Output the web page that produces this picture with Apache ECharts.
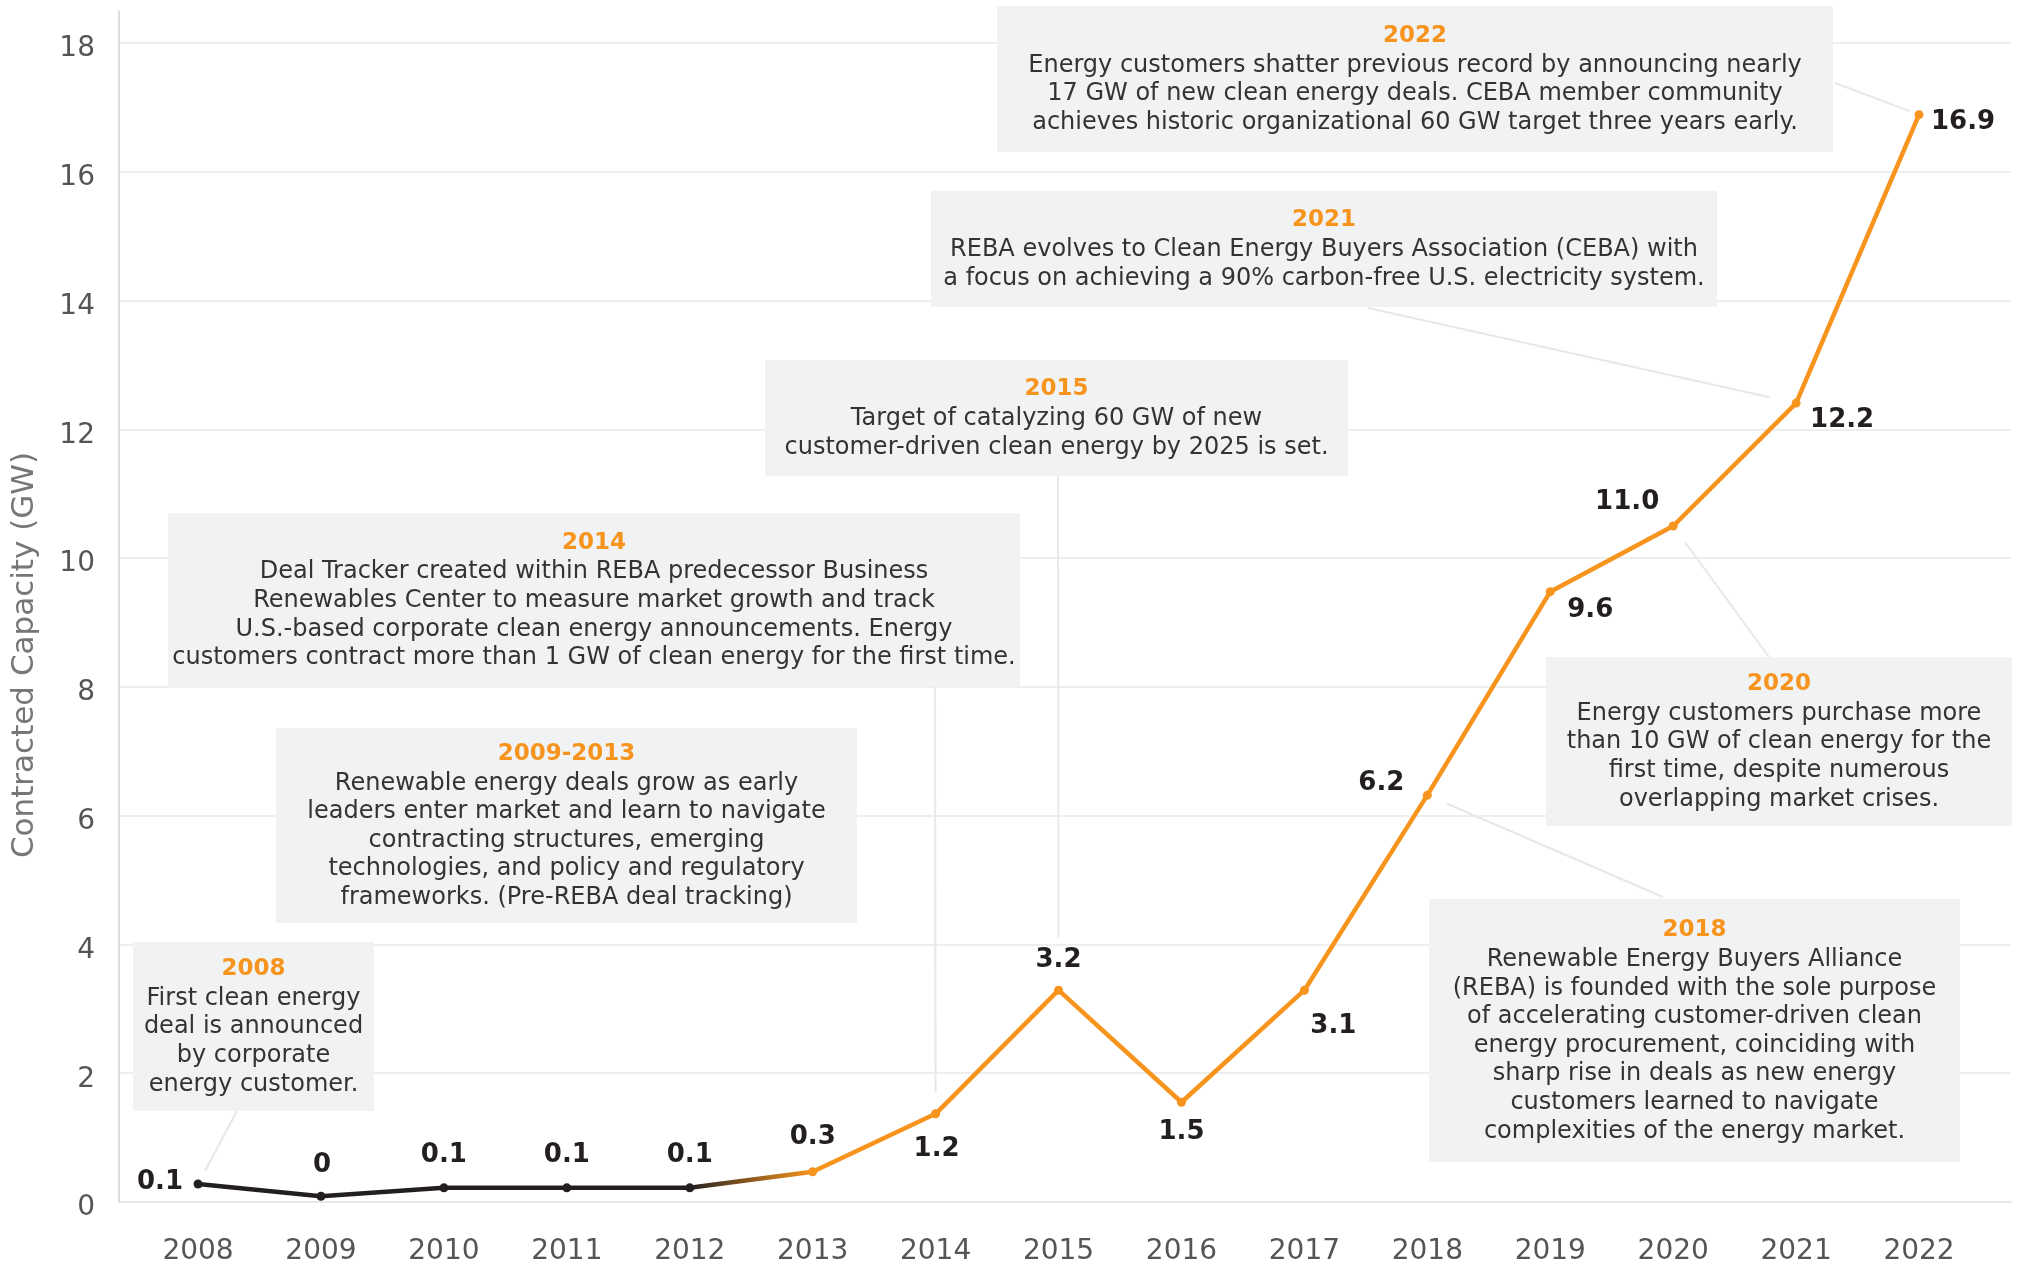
<!DOCTYPE html>
<html>
<head>
<meta charset="utf-8">
<script src="https://cdn.jsdelivr.net/npm/echarts@6.0.0/dist/echarts.min.js"></script>
<style>
html,body{margin:0;padding:0;background:#ffffff;}
#chart{width:2017px;height:1266px;}
</style>
</head>
<body>
<div id="chart"></div>
<script>
// ---------------- data ----------------
const years = [2008, 2009, 2010, 2011, 2012, 2013, 2014, 2015, 2016, 2017, 2018, 2019, 2020, 2021, 2022];
const capacity = [0.28, 0.09, 0.22, 0.22, 0.22, 0.47, 1.37, 3.29, 1.55, 3.29, 6.32, 9.48, 10.50, 12.41, 16.89];
const capacityLabels = ['0.1', '0', '0.1', '0.1', '0.1', '0.3', '1.2', '3.2', '1.5', '3.1', '6.2', '9.6', '11.0', '12.2', '16.9'];
const yTicks = [0, 2, 4, 6, 8, 10, 12, 14, 16, 18];
const lastBlackYear = 2012;
const firstOrangeYear = 2013;
const yAxisTitle = 'Contracted Capacity (GW)';

const noteTitles = ['2022', '2021', '2015', '2014', '2009-2013', '2008', '2020', '2018'];
const noteTargets = [2022, 2021, 2015, 2014, null, 2008, 2020, 2018];
const noteTexts = [
  ['Energy customers shatter previous record by announcing nearly',
   '17 GW of new clean energy deals. CEBA member community',
   'achieves historic organizational 60 GW target three years early.'],
  ['REBA evolves to Clean Energy Buyers Association (CEBA) with',
   'a focus on achieving a 90% carbon-free U.S. electricity system.'],
  ['Target of catalyzing 60 GW of new',
   'customer-driven clean energy by 2025 is set.'],
  ['Deal Tracker created within REBA predecessor Business',
   'Renewables Center to measure market growth and track',
   'U.S.-based corporate clean energy announcements. Energy',
   'customers contract more than 1 GW of clean energy for the first time.'],
  ['Renewable energy deals grow as early',
   'leaders enter market and learn to navigate',
   'contracting structures, emerging',
   'technologies, and policy and regulatory',
   'frameworks. (Pre-REBA deal tracking)'],
  ['First clean energy',
   'deal is announced',
   'by corporate',
   'energy customer.'],
  ['Energy customers purchase more',
   'than 10 GW of clean energy for the',
   'first time, despite numerous',
   'overlapping market crises.'],
  ['Renewable Energy Buyers Alliance',
   '(REBA) is founded with the sole purpose',
   'of accelerating customer-driven clean',
   'energy procurement, coinciding with',
   'sharp rise in deals as new energy',
   'customers learned to navigate',
   'complexities of the energy market.']
];

// ---------------- layout (pixels) ----------------
const noteBoxes = [
  [997, 6, 836, 146],
  [931, 191, 786, 116],
  [765, 360, 583, 116],
  [168, 513, 852, 174],
  [276, 728, 581, 195],
  [133, 942, 241, 169],
  [1546, 657, 466, 169],
  [1429, 899, 531, 263]
];
const leaderStarts = [[1835, 83], [1368, 308], [1058, 476], [935, 687], null, [237, 1111], [1769, 657], [1663, 897]];
const leaderGaps = [10, 27, 53, 21, 0, 15, 20, 21];
const labelOffsets = [[-38, -2], [1, -31], [0, -33], [0, -33], [0, -33], [0, -34], [1, 35], [0, -30], [0, 30],
                      [29, 36], [-46, -12], [40, 19], [-46, -24], [46, 17], [44, 8]];

const ORANGE = '#F7941D';
const BLACK = '#231F20';
const FONT = 'DejaVu Sans';

const chart = echarts.init(document.getElementById('chart'), null, {renderer: 'canvas'});

const t0 = (lastBlackYear - years[0]) / (years[years.length - 1] - years[0]);
const t1 = (firstOrangeYear - years[0]) / (years[years.length - 1] - years[0]);

const seriesData = years.map((yr, i) => ({
  value: [yr, capacity[i]],
  itemStyle: {color: yr <= lastBlackYear ? BLACK : ORANGE},
  label: {offset: labelOffsets[i]}
}));

chart.setOption({
  animation: false,
  backgroundColor: '#ffffff',
  textStyle: {fontFamily: FONT},
  grid: {left: 119, right: 6, top: 11, bottom: 64},
  xAxis: {
    type: 'value',
    min: 2007.357,
    max: 2022.748,
    axisLine: {show: true, lineStyle: {color: '#e6e6e6', width: 1.5}},
    axisTick: {show: false},
    splitLine: {show: false},
    axisLabel: {
      customValues: years,
      formatter: v => String(v),
      fontSize: 28,
      color: '#555555',
      margin: 36,
      fontFamily: FONT
    }
  },
  yAxis: {
    type: 'value',
    min: 0,
    max: 18.5,
    interval: 2,
    axisLine: {show: true, lineStyle: {color: '#dedede', width: 2}},
    axisTick: {show: false},
    splitLine: {show: true, showMaxLine: false, lineStyle: {color: '#e9e9e9', width: 1.5}},
    axisLabel: {
      showMaxLabel: false,
      formatter: v => (yTicks.indexOf(v) >= 0 ? String(v) : ''),
      fontSize: 28,
      color: '#555555',
      margin: 24,
      verticalAlign: 'top',
      lineHeight: 12,
      fontFamily: FONT
    }
  },
  series: [{
    type: 'line',
    data: seriesData,
    symbol: 'circle',
    symbolSize: 9,
    silent: true,
    z: 5,
    lineStyle: {
      width: 4.5,
      color: new echarts.graphic.LinearGradient(0, 0, 1, 0, [
        {offset: 0, color: BLACK},
        {offset: t0, color: BLACK},
        {offset: t1, color: ORANGE},
        {offset: 1, color: ORANGE}
      ])
    },
    label: {
      show: true,
      position: 'inside',
      formatter: p => capacityLabels[p.dataIndex],
      fontSize: 26,
      fontWeight: 'bold',
      color: BLACK,
      fontFamily: FONT
    }
  }]
});

// ---------------- annotations ----------------
const graphics = [];
graphics.push({
  type: 'text',
  x: 25, y: 655,
  rotation: Math.PI / 2,
  style: {
    text: yAxisTitle,
    align: 'center',
    verticalAlign: 'middle',
    fontSize: 31,
    fill: '#777777',
    fontFamily: FONT
  }
});

noteBoxes.forEach((b, i) => {
  if (noteTargets[i] !== null && leaderStarts[i]) {
    const idx = years.indexOf(noteTargets[i]);
    const p = chart.convertToPixel({seriesIndex: 0}, [years[idx], capacity[idx]]);
    const s = leaderStarts[i];
    const dx = s[0] - p[0], dy = s[1] - p[1];
    const len = Math.sqrt(dx * dx + dy * dy);
    const g = leaderGaps[i] / len;
    graphics.push({
      type: 'line',
      z: 1,
      shape: {x1: s[0], y1: s[1], x2: p[0] + dx * g, y2: p[1] + dy * g},
      style: {stroke: '#e8e8e8', lineWidth: 2}
    });
  }
  graphics.push({
    type: 'rect',
    z: 2,
    shape: {x: b[0], y: b[1], width: b[2], height: b[3]},
    style: {fill: '#f1f2f4'}
  });
  const txt = '{t|' + noteTitles[i] + '}\n' + noteTexts[i].map(l => '{b|' + l + '}').join('\n');
  graphics.push({
    type: 'text',
    z: 3,
    x: b[0] + b[2] / 2,
    y: b[1] + b[3] / 2,
    style: {
      text: txt,
      align: 'center',
      verticalAlign: 'middle',
      fontFamily: FONT,
      rich: {
        t: {fontSize: 23, fontWeight: 'bold', fill: ORANGE, lineHeight: 30, align: 'center', fontFamily: FONT},
        b: {fontSize: 24, fill: '#333333', lineHeight: 28.6, align: 'center', fontFamily: FONT}
      }
    }
  });
});

chart.setOption({graphic: {elements: graphics}});
</script>
</body>
</html>
